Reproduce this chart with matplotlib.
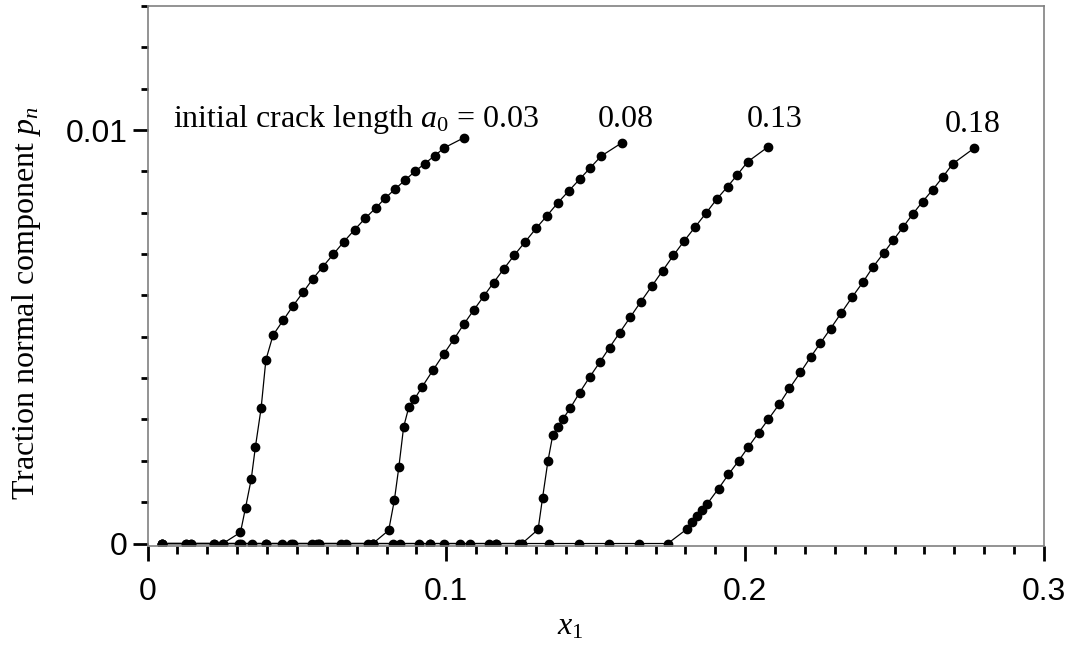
import matplotlib
matplotlib.use("Agg")
import matplotlib.pyplot as plt
from matplotlib.ticker import MultipleLocator, FuncFormatter

plt.rcParams['mathtext.fontset'] = 'custom'
plt.rcParams['mathtext.rm'] = 'Liberation Serif'
plt.rcParams['mathtext.it'] = 'Liberation Serif:italic'

# traction normal component along x1, one curve per initial crack length
a0_labels = ["0.03", "0.08", "0.13", "0.18"]

c1_x = [0.0049, 0.0129, 0.0146, 0.0221, 0.0252,
        0.0311, 0.0328, 0.0347, 0.0361, 0.0380, 0.0396, 0.0420, 0.0454, 0.0487, 0.0521,
        0.0553, 0.0586, 0.0621, 0.0657, 0.0693, 0.0729, 0.0763, 0.0795, 0.0828, 0.0862,
        0.0895, 0.0928, 0.0961, 0.0993, 0.1058]
c1_y = [0, 0, 0, 0, 0,
        0.00027, 0.00087, 0.00156, 0.00234, 0.00327, 0.00444, 0.00504, 0.00540, 0.00575, 0.00608,
        0.00640, 0.00669, 0.00699, 0.00730, 0.00759, 0.00787, 0.00811, 0.00835, 0.00857, 0.00879,
        0.00900, 0.00919, 0.00938, 0.00957, 0.00981]

c2_x = [0.0049, 0.0146, 0.0221, 0.0313, 0.0395, 0.0488, 0.0566, 0.0664, 0.0737, 0.0754,
        0.0807, 0.0826, 0.0841, 0.0857, 0.0874, 0.0893, 0.0919, 0.0955, 0.0991, 0.1025,
        0.1058, 0.1091, 0.1125, 0.1158, 0.1192, 0.1227, 0.1263, 0.1300, 0.1337, 0.1373,
        0.1410, 0.1446, 0.1482, 0.1518, 0.1587]
c2_y = [0, 0, 0, 0, 0, 0, 0, 0, 0, 0,
        0.00032, 0.00105, 0.00185, 0.00282, 0.00329, 0.00349, 0.00379, 0.00419, 0.00458, 0.00494,
        0.00530, 0.00564, 0.00598, 0.00631, 0.00664, 0.00697, 0.00729, 0.00762, 0.00793, 0.00824,
        0.00853, 0.00881, 0.00909, 0.00937, 0.00969]

c3_x = [0.0049, 0.0129, 0.0305, 0.0350, 0.0450, 0.0480, 0.0550, 0.0575, 0.0648, 0.0754,
        0.0821, 0.0846, 0.0907, 0.0946, 0.0993, 0.1046, 0.1079, 0.1144, 0.1166, 0.1244, 0.1253,
        0.1307, 0.1322, 0.1340, 0.1356, 0.1372, 0.1390, 0.1415, 0.1446, 0.1479, 0.1513,
        0.1546, 0.1580, 0.1615, 0.1651, 0.1688, 0.1724, 0.1760, 0.1796, 0.1833, 0.1870,
        0.1905, 0.1941, 0.1974, 0.2008, 0.2078]
c3_y = [0, 0, 0, 0, 0, 0, 0, 0, 0, 0,
        0, 0, 0, 0, 0, 0, 0, 0, 0, 0, 0,
        0.00034, 0.00111, 0.00200, 0.00262, 0.00282, 0.00301, 0.00328, 0.00365, 0.00402, 0.00438,
        0.00474, 0.00510, 0.00547, 0.00585, 0.00623, 0.00660, 0.00697, 0.00732, 0.00766, 0.00800,
        0.00833, 0.00863, 0.00892, 0.00923, 0.00960]

c4_x = [0.0049, 0.0252, 0.0395, 0.0575, 0.0754, 0.0946, 0.1166, 0.1253, 0.1345, 0.1445,
        0.1543, 0.1643, 0.1741,
        0.1805, 0.1822, 0.1838, 0.1855, 0.1872, 0.1911, 0.1944, 0.1978, 0.2011, 0.2045,
        0.2078, 0.2114, 0.2148, 0.2185, 0.2219, 0.2252, 0.2286, 0.2321, 0.2358, 0.2394,
        0.2428, 0.2463, 0.2496, 0.2529, 0.2561, 0.2594, 0.2628, 0.2661, 0.2694, 0.2766]
c4_y = [0, 0, 0, 0, 0, 0, 0, 0, 0, 0,
        0, 0, 0,
        0.00035, 0.00051, 0.00066, 0.00081, 0.00095, 0.00133, 0.00167, 0.00200, 0.00234, 0.00268,
        0.00301, 0.00337, 0.00375, 0.00414, 0.00451, 0.00485, 0.00520, 0.00557, 0.00596, 0.00632,
        0.00669, 0.00702, 0.00734, 0.00766, 0.00797, 0.00827, 0.00856, 0.00886, 0.00918, 0.00956]

curves = [(c1_x, c1_y), (c2_x, c2_y), (c3_x, c3_y), (c4_x, c4_y)]

fig = plt.figure(figsize=(10.7, 6.49), dpi=100)
ax = fig.add_axes([0.1379, 0.1587, 0.8378, 0.8321])

for xs, ys in curves:
    ax.plot(xs, ys, color='black', lw=0.9, marker='o', ms=6, mfc='black', mec='black')

ax.set_xlim(0, 0.3)
ax.set_ylim(-0.00006, 0.013)

ax.xaxis.set_major_locator(MultipleLocator(0.1))
ax.xaxis.set_minor_locator(MultipleLocator(0.01))
ax.yaxis.set_major_locator(MultipleLocator(0.01))
ax.yaxis.set_minor_locator(MultipleLocator(0.001))
fmt = FuncFormatter(lambda v, p: "0" if abs(v) < 1e-12 else "%g" % round(v, 4))
ax.xaxis.set_major_formatter(fmt)
ax.yaxis.set_major_formatter(fmt)

ax.tick_params(which='both', direction='out', color='black', width=2)
ax.tick_params(axis='x', which='major', length=11, pad=11)
ax.tick_params(axis='x', which='minor', length=5.5)
ax.tick_params(axis='y', which='major', length=10.5, pad=4)
ax.tick_params(axis='y', which='minor', length=5)
for lab in ax.get_xticklabels() + ax.get_yticklabels():
    lab.set_fontfamily('Liberation Sans')
    lab.set_fontsize(23)

for s in ax.spines.values():
    s.set_color('#808080')
    s.set_linewidth(1.2)

# crack length annotations
ax.text(0.0085, 0.01007, r"initial crack length $a_0$ = " + a0_labels[0],
        fontfamily='Liberation Serif', fontsize=23, va='baseline', ha='left')
ax.text(0.1507, 0.01007, a0_labels[1], fontfamily='Liberation Serif', fontsize=23,
        va='baseline', ha='left')
ax.text(0.2005, 0.01007, a0_labels[2], fontfamily='Liberation Serif', fontsize=23,
        va='baseline', ha='left')
ax.text(0.2667, 0.00995, a0_labels[3], fontfamily='Liberation Serif', fontsize=23,
        va='baseline', ha='left')

fig.text(27 / 1070, 1 - 303 / 649, r"Traction normal component $p_n$", rotation=90,
         ha='center', va='center', fontfamily='Liberation Serif', fontsize=23)
fig.text(570 / 1070, 1 - 627 / 649, r"$x_1$", ha='center', va='center',
         fontfamily='Liberation Serif', fontsize=23)

fig.savefig("out.png", dpi=100)
